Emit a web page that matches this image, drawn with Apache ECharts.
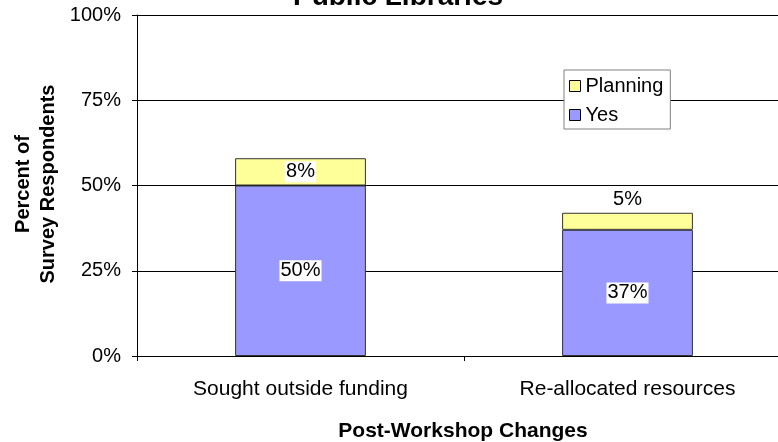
<!DOCTYPE html>
<html>
<head>
<meta charset="utf-8">
<script src="https://cdn.jsdelivr.net/npm/echarts@6/dist/echarts.min.js"></script>
<style>
  html, body { margin: 0; padding: 0; background: #fff; }
  #chart { width: 778px; height: 442px; }
</style>
</head>
<body>
<div id="chart"></div>
<script>
// data
var categories = ['Sought outside funding', 'Re-allocated resources']
var yesValues = [50, 37]
var planningValues = [8, 5]
var yTicks = [0, 25, 50, 75, 100]

var font = '"Liberation Sans", Arial, sans-serif'

var chart = echarts.init(document.getElementById('chart'), null, { renderer: 'canvas' })

var labelStyle = {
  show: true,
  formatter: '{c}%',
  color: '#000',
  fontFamily: font,
  fontSize: 20,
  backgroundColor: '#fff',
  padding: [1, 1, 0, 1]
}

chart.setOption({
  backgroundColor: '#fff',
  animation: false,
  textStyle: { fontFamily: font },
  // plot area runs a little past the right edge of the picture
  grid: {
    left: 137,
    width: 654,
    top: 15,
    bottom: 86,
    outerBoundsMode: 'none'
  },
  legend: {
    data: ['Planning', 'Yes'],
    orient: 'vertical',
    left: 564,
    top: 70,
    itemWidth: 11,
    itemHeight: 11,
    itemGap: 9,
    icon: 'rect',
    padding: [6, 7, 4, 5],
    borderColor: '#808080',
    borderWidth: 1,
    backgroundColor: '#fff',
    textStyle: { fontFamily: font, fontSize: 20, color: '#000', padding: [0, 0, 0, 0] },
    itemStyle: { borderColor: '#000', borderWidth: 1 }
  },
  xAxis: {
    type: 'category',
    data: categories,
    axisLine: { lineStyle: { color: '#000', width: 1 } },
    axisTick: { show: true, alignWithLabel: false, length: 5, lineStyle: { color: '#000' } },
    axisLabel: { color: '#000', fontSize: 21, fontFamily: font, margin: 23, interval: 0 }
  },
  yAxis: {
    type: 'value',
    min: yTicks[0],
    max: yTicks[yTicks.length - 1],
    interval: yTicks[1] - yTicks[0],
    axisLine: { show: true, lineStyle: { color: '#000', width: 1 } },
    axisTick: { show: true, length: 5, lineStyle: { color: '#000' } },
    axisLabel: { color: '#000', fontSize: 20, fontFamily: font, margin: 16, formatter: '{value}%' },
    splitLine: { show: true, lineStyle: { color: '#000', width: 1 } }
  },
  graphic: [
    {
      type: 'text',
      x: 398,
      y: -17,
      style: { text: 'Public Libraries', font: 'bold 28px ' + font, fill: '#000', textAlign: 'center' }
    },
    {
      type: 'text',
      x: 463,
      y: 431,
      style: { text: 'Post-Workshop Changes', font: 'bold 21px ' + font, fill: '#000', textAlign: 'center', textVerticalAlign: 'middle' }
    },
    {
      type: 'text',
      x: 36,
      y: 184,
      rotation: Math.PI / 2,
      style: {
        text: 'Percent of\nSurvey Respondents',
        font: 'bold 20px ' + font,
        fill: '#000',
        textAlign: 'center',
        textVerticalAlign: 'middle',
        lineHeight: 25
      }
    }
  ],
  series: [
    {
      name: 'Yes',
      type: 'bar',
      stack: 'total',
      barWidth: '40%',
      itemStyle: { color: '#9999ff', borderColor: '#333', borderWidth: 1 },
      label: Object.assign({ position: 'inside' }, labelStyle),
      data: yesValues
    },
    {
      name: 'Planning',
      type: 'bar',
      stack: 'total',
      barWidth: '40%',
      itemStyle: { color: '#ffff99', borderColor: '#333', borderWidth: 1 },
      label: Object.assign({ position: 'inside' }, labelStyle),
      data: planningValues.map(function (v, i) {
        // the thin segment on the second bar has its label above the bar
        return i === 1 ? { value: v, label: { position: 'top', distance: 3 } } : v
      })
    }
  ]
})
</script>
</body>
</html>
